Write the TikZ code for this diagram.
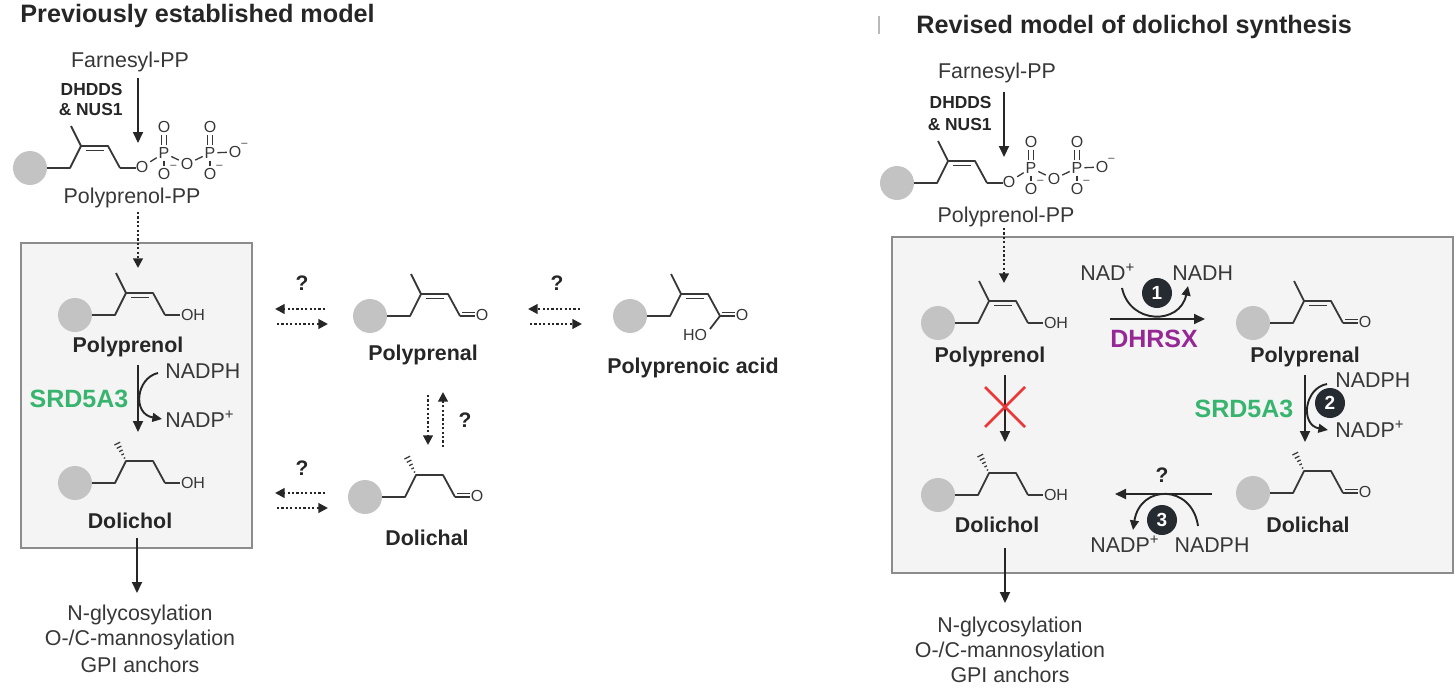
\documentclass[tikz,border=0pt]{standalone}
\usepackage{fontspec}
\setmainfont{Liberation Sans}
\usetikzlibrary{arrows.meta,calc}

\definecolor{ink}{RGB}{38,38,38}
\definecolor{txt}{RGB}{55,55,55}
\definecolor{bondc}{RGB}{55,55,55}
\definecolor{ballg}{RGB}{195,195,195}
\definecolor{boxfill}{RGB}{244,244,245}
\definecolor{boxline}{RGB}{140,140,140}
\definecolor{srdgreen}{RGB}{55,180,110}
\definecolor{dhpurple}{RGB}{150,40,150}
\definecolor{xred}{RGB}{235,55,55}
\definecolor{numfill}{RGB}{38,43,50}

\newcommand\fs[1]{\fontsize{#1}{#1}\selectfont}

% unsaturated isoprene unit with lipid ball, origin = ball centre (px units)
\newcommand\enechain{%
  \fill[ballg] (0,0) circle (8.5pt);
  \draw[chem] (17,0) -- (40,0) -- (51,-22) -- (78,-22) -- (90,0);
  \draw[chem] (51,-22) -- (41,-42);
  \draw[chem] (56,-17.5) -- (74,-17.5);}
% saturated unit with hashed methyl
\newcommand\anechain{%
  \fill[ballg] (0,0) circle (8.5pt);
  \draw[chem] (17,0) -- (40,0) -- (51,-22) -- (78,-22) -- (90,0);
  \foreach \t/\w in {0.15/0.8,0.33/1.4,0.51/2.0,0.69/2.6,0.87/3.2}
    \draw[chem,line width=0.6pt] ({51-10*\t+0.894*\w},{-22-20*\t-0.447*\w}) -- ({51-10*\t-0.894*\w},{-22-20*\t+0.447*\w});}
% alcohol end
\newcommand\ohend[1]{%
  \draw[chem] (90,0) -- (105,0);
  \node[atom,anchor=west] (#1) at (104,0) {OH};}
% aldehyde end
\newcommand\alend[1]{%
  \draw[chem] (90,0) -- (105,0);
  \draw[chem] (92,-3.6) -- (105,-3.6);
  \node[atom] (#1) at (112,-1.5) {O};}
% diphosphate end
\newcommand\ppend{%
  \draw[chem] (90,0) -- (106,0);
  \node[atom] (pO1) at (112,-1) {O};
  \node[atom] (pP1) at (134,-15) {P};
  \node[atom] (pO2) at (134,-41) {O};
  \node[atom,label={[msup]north east:{–}}] (pO3) at (134,6) {O};
  \node[atom] (pO4) at (157,-4) {O};
  \node[atom] (pP2) at (180,-15) {P};
  \node[atom] (pO5) at (180,-41) {O};
  \node[atom,label={[msup]north east:{–}}] (pO6) at (205,-16) {O};
  \node[atom,label={[msup]north east:{–}}] (pO7) at (180,6) {O};
  \draw[pbond] (pO1) -- (pP1) -- (pO4) -- (pP2) -- (pO6);
  \draw[pbond] (pP1) -- (pO3);
  \draw[pbond] (pP2) -- (pO7);
  \draw[pbond] ([xshift=-1.1pt]pP1.north) -- ([xshift=-1.1pt]pO2.south);
  \draw[pbond] ([xshift=1.1pt]pP1.north) -- ([xshift=1.1pt]pO2.south);
  \draw[pbond] ([xshift=-1.1pt]pP2.north) -- ([xshift=-1.1pt]pO5.south);
  \draw[pbond] ([xshift=1.1pt]pP2.north) -- ([xshift=1.1pt]pO5.south);}

\begin{document}
\begin{tikzpicture}[x=0.5pt,y=-0.5pt,
  chem/.style={draw=bondc,line width=0.9pt,line join=round},
  pbond/.style={draw=bondc,line width=0.65pt},
  atom/.style={font=\fs{8},text=txt,inner sep=0.8pt},
  msup/.style={font=\fs{5.5},text=txt,inner sep=0},
  label distance=-1.6pt,
  lbl/.style={font=\fs{10.7},text=txt,inner sep=0},
  blbl/.style={font=\bfseries\fs{10.7},text=ink,inner sep=0},
  ttl/.style={font=\bfseries\fs{12.6},text=ink,inner sep=0},
  dh/.style={font=\bfseries\fs{8.7},text=ink,inner sep=0},
  enz/.style={font=\bfseries\fs{12.5},inner sep=0},
  qm/.style={font=\bfseries\fs{10.5},text=ink,inner sep=0},
  num/.style={circle,fill=numfill,text=white,font=\bfseries\fs{9.5},minimum size=15pt,inner sep=0},
  rx/.style={draw=ink,line width=1pt,-{Triangle[length=5.5pt,width=5pt]}},
  dotrx/.style={draw=ink,line width=1.05pt,dash pattern=on 1.1pt off 1.1pt,-{Triangle[length=4.8pt,width=4.8pt]}},
  cof/.style={draw=ink,line width=0.95pt,-{Triangle[length=4.8pt,width=4.4pt]}},
  boxst/.style={draw=boxline,fill=boxfill,line width=0.7pt}]
\useasboundingbox (0,0) rectangle (1456,696);

% ================= LEFT PANEL =================
\path[boxst] (21,243) rectangle (252,548);
\node[ttl,anchor=base west] (titleL) at (20,23) {Previously established model};
\node[lbl,anchor=base] (farnL) at (130,67) {Farnesyl-PP};
\node[dh,anchor=base east] (dhaL) at (123,95) {DHDDS};
\node[dh,anchor=base east] (dhbL) at (123,115) {\& NUS1};
\coordinate (aL1) at (138,78); \coordinate (aL2) at (138,143);
\draw[rx] (aL1) -- (aL2);
\begin{scope}[shift={(30,168)}] \enechain \ppend \end{scope}
\node[lbl,anchor=base] (ppL) at (132,203) {Polyprenol-PP};
\coordinate (aL3) at (138,212); \coordinate (aL4) at (138,268);
\draw[dotrx] (aL3) -- (aL4);

\begin{scope}[shift={(75,315)}] \enechain \ohend{ohPolL} \end{scope}
\node[blbl,anchor=base] (polL) at (128,352) {Polyprenol};
\coordinate (aL5) at (138,365); \coordinate (aL6) at (138,432);
\draw[rx] (aL5) -- (aL6);
\node[lbl,anchor=base west] (nadphL) at (165,378) {NADPH};
\node[lbl,anchor=base west] (nadpL) at (165,427) {NADP\textsuperscript{+}};
\draw[cof] (158,373) .. controls (136,378) and (132,414) .. (162,419);
\node[enz,text=srdgreen,anchor=base] (srdL) at (79,407) {SRD5A3};

\begin{scope}[shift={(75,483)}] \anechain \ohend{ohDolL} \end{scope}
\node[blbl,anchor=base] (dolL) at (130,528) {Dolichol};
\coordinate (aL7) at (137,538); \coordinate (aL8) at (137,593);
\draw[rx] (aL7) -- (aL8);
\node[lbl,anchor=base] (gaL) at (140,620) {N-glycosylation};
\node[lbl,anchor=base] (gbL) at (140,645) {O-/C-mannosylation};
\node[lbl,anchor=base] (gcL) at (140,672) {GPI anchors};

% middle: unknown conversions
\draw[dotrx] (325,309) -- (275,309);
\draw[dotrx] (277,324) -- (328,324);
\node[qm,anchor=base] (q1) at (302,290) {?};
\draw[dotrx] (580,309) -- (528,309);
\draw[dotrx] (530,324) -- (582,324);
\node[qm,anchor=base] (q2) at (557,290) {?};
\draw[dotrx] (325,493) -- (275,493);
\draw[dotrx] (277,508) -- (328,508);
\node[qm,anchor=base] (q3) at (302,475) {?};
\draw[dotrx] (428,395) -- (428,445);
\draw[dotrx] (443,447) -- (443,392);
\node[qm,anchor=base] (q4) at (465,427) {?};

\begin{scope}[shift={(370,316)}] \enechain \alend{oPrnL} \end{scope}
\node[blbl,anchor=base] (prnL) at (423,360) {Polyprenal};

\begin{scope}[shift={(630,316)}]
  \enechain \alend{oAcid}
  \draw[chem] (90,0) -- (80,13);
  \node[atom,anchor=east] (hoAcid) at (79,19) {HO};
\end{scope}
\node[blbl,anchor=base] (acid) at (693,373) {Polyprenoic acid};

\begin{scope}[shift={(365,497)}] \anechain \alend{oDalL} \end{scope}
\node[blbl,anchor=base] (dalL) at (427,545) {Dolichal};

% ================= RIGHT PANEL =================
\draw[gray!55,line width=0.6pt] (879,16) -- (879,34);
\node[ttl,anchor=base west] (titleR) at (916,33) {Revised model of dolichol synthesis};
\node[lbl,anchor=base] (farnR) at (997,78) {Farnesyl-PP};
\node[dh,anchor=base east] (dhaR) at (992,108) {DHDDS};
\node[dh,anchor=base east] (dhbR) at (992,130) {\& NUS1};
\coordinate (aR1) at (1004,92); \coordinate (aR2) at (1004,157);
\draw[rx] (aR1) -- (aR2);
\begin{scope}[shift={(897,183)}] \enechain \ppend \end{scope}
\node[lbl,anchor=base] (ppR) at (1006,222) {Polyprenol-PP};

\path[boxst] (892,237) rectangle (1453,573);
\coordinate (aR3) at (1004,228); \coordinate (aR4) at (1004,283);
\draw[dotrx] (aR3) -- (aR4);

\begin{scope}[shift={(938,323)}] \enechain \ohend{ohPolR} \end{scope}
\node[blbl,anchor=base] (polR) at (990,362) {Polyprenol};

% reaction 1
\node[lbl,anchor=base west] (nadR) at (1080,280) {NAD\textsuperscript{+}};
\node[lbl,anchor=base west] (nadhR) at (1172,280) {NADH};
\coordinate (aR5) at (1110,319); \coordinate (aR6) at (1205,319);
\draw[rx] (aR5) -- (aR6);
\draw[cof] (1122,288) .. controls (1130,325) and (1180,325) .. (1188,286);
\node[num] (n1) at (1157,293) {1};
\node[enz,text=dhpurple,anchor=base] (dhrsx) at (1154,347) {DHRSX};

\begin{scope}[shift={(1253,323)}] \enechain \alend{oPrnR} \end{scope}
\node[blbl,anchor=base] (prnR) at (1305,362) {Polyprenal};

% blocked direct reduction
\coordinate (aR7) at (1005,375); \coordinate (aR8) at (1005,442);
\draw[rx] (aR7) -- (aR8);
\draw[xred,line width=1.3pt] (985,387) -- (1025,427);
\draw[xred,line width=1.3pt] (985,427) -- (1025,387);

% reaction 2
\coordinate (aR9) at (1305,375); \coordinate (aR10) at (1305,442);
\draw[rx] (aR9) -- (aR10);
\node[lbl,anchor=base west] (nadphR) at (1335,387) {NADPH};
\node[lbl,anchor=base west] (nadpR) at (1335,437) {NADP\textsuperscript{+}};
\draw[cof] (1327,384) .. controls (1304,388) and (1300,425) .. (1328,430);
\node[num] (n2) at (1330,403) {2};
\node[enz,text=srdgreen,anchor=base] (srdR) at (1244,417) {SRD5A3};

\begin{scope}[shift={(1253,493)}] \anechain \alend{oDalR} \end{scope}
\node[blbl,anchor=base] (dalR) at (1308,532) {Dolichal};

\begin{scope}[shift={(938,495)}] \anechain \ohend{ohDolR} \end{scope}
\node[blbl,anchor=base] (dolR) at (997,532) {Dolichol};

% reaction 3
\node[qm,anchor=base] (q5) at (1162,482) {?};
\coordinate (aR11) at (1212,494); \coordinate (aR12) at (1115,494);
\draw[rx] (aR11) -- (aR12);
\draw[cof] (1198,526) .. controls (1192,484) and (1140,484) .. (1133,530);
\node[num] (n3) at (1162,520) {3};
\node[lbl,anchor=base] (nadp3) at (1125,552) {NADP\textsuperscript{+}};
\node[lbl,anchor=base] (nadph3) at (1212,552) {NADPH};

\coordinate (aR13) at (1005,548); \coordinate (aR14) at (1005,603);
\draw[rx] (aR13) -- (aR14);
\node[lbl,anchor=base] (gaR) at (1010,632) {N-glycosylation};
\node[lbl,anchor=base] (gbR) at (1010,657) {O-/C-mannosylation};
\node[lbl,anchor=base] (gcR) at (1010,682) {GPI anchors};
\end{tikzpicture}
\end{document}
